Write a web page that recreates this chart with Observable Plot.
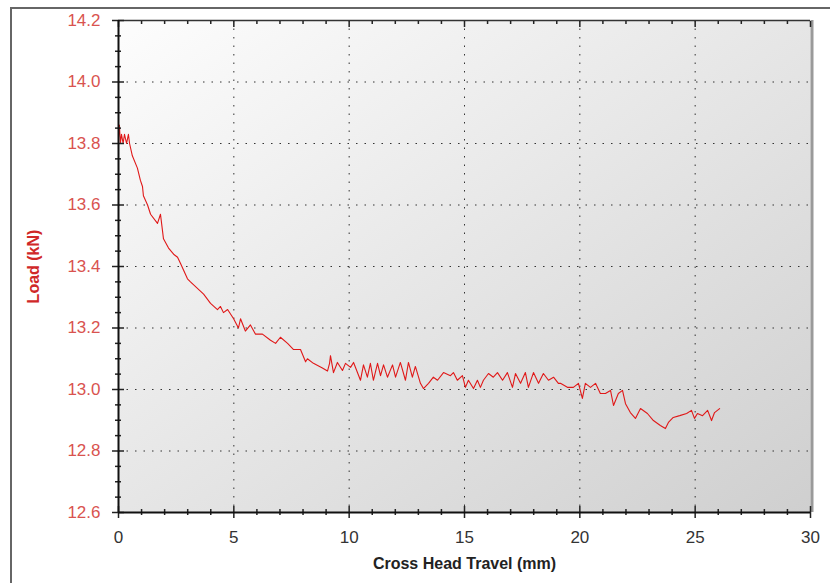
<!DOCTYPE html>
<html><head><meta charset="utf-8">
<script src="https://cdn.jsdelivr.net/npm/d3@7"></script>
<script src="https://cdn.jsdelivr.net/npm/@observablehq/plot@0.6"></script>
<style>
body{margin:0;background:#fff;}
#wrap{position:relative;width:830px;height:583px;overflow:hidden;}
#border{position:absolute;left:10px;top:7px;width:830px;height:590px;border-left:2px solid #666;border-top:2px solid #666;pointer-events:none;}
#wrap svg{position:absolute;left:0;top:0;}
</style></head><body><div id="wrap"><div id="border"></div></div>
<script>
const travel = [
  0, 0.04, 0.08, 0.13, 0.2, 0.26, 0.35, 0.43, 0.48, 0.6,
  0.82, 0.95, 1.04, 1.08, 1.26, 1.39, 1.69, 1.82, 1.95, 2.17,
  2.39, 2.56, 2.69, 2.99, 3.12, 3.55, 3.69, 3.99, 4.29, 4.42,
  4.55, 4.73, 4.99, 5.2, 5.29, 5.5, 5.72, 5.94, 6.24, 6.59,
  6.81, 7.02, 7.33, 7.59, 7.89, 8.11, 8.19, 8.45, 8.84, 9.06,
  9.15, 9.19, 9.32, 9.49, 9.71, 9.84, 10.06, 10.19, 10.49, 10.62,
  10.79, 10.92, 11.05, 11.23, 11.36, 11.49, 11.66, 11.88, 12.01, 12.22,
  12.44, 12.57, 12.74, 12.87, 13.09, 13.22, 13.44, 13.65, 13.83, 14.09,
  14.39, 14.52, 14.69, 14.91, 15.04, 15.17, 15.39, 15.56, 15.69, 15.82,
  16.04, 16.25, 16.43, 16.65, 16.86, 17.08, 17.21, 17.43, 17.64, 17.77,
  17.99, 18.21, 18.42, 18.64, 18.86, 19.07, 19.16, 19.46, 19.72, 19.94,
  20.11, 20.24, 20.46, 20.68, 20.89, 21.11, 21.33, 21.46, 21.67, 21.85,
  21.98, 22.19, 22.41, 22.63, 22.93, 23.19, 23.49, 23.71, 23.84, 24.05,
  24.33, 24.63, 24.84, 24.97, 25.10, 25.32, 25.54, 25.71, 25.84, 26.06
];
const load = [
  13.82, 13.86, 13.80, 13.83, 13.80, 13.83, 13.80, 13.83, 13.80, 13.76,
  13.72, 13.68, 13.66, 13.63, 13.60, 13.57, 13.54, 13.57, 13.49, 13.46,
  13.44, 13.43, 13.41, 13.36, 13.35, 13.32, 13.31, 13.28, 13.26, 13.27,
  13.25, 13.26, 13.23, 13.20, 13.23, 13.19, 13.21, 13.18, 13.18, 13.16,
  13.15, 13.17, 13.15, 13.13, 13.13, 13.09, 13.10, 13.085, 13.07, 13.06,
  13.085, 13.11, 13.055, 13.088, 13.062, 13.085, 13.072, 13.088, 13.03, 13.08,
  13.04, 13.085, 13.03, 13.085, 13.045, 13.08, 13.04, 13.08, 13.04, 13.088,
  13.03, 13.088, 13.04, 13.075, 13.02, 13.003, 13.02, 13.04, 13.03, 13.055,
  13.045, 13.055, 13.03, 13.045, 13.007, 13.03, 13.003, 13.03, 13.007, 13.03,
  13.052, 13.04, 13.055, 13.03, 13.055, 13.007, 13.052, 13.02, 13.055, 13.007,
  13.055, 13.02, 13.052, 13.03, 13.04, 13.02, 13.02, 13.007, 13.007, 13.02,
  12.971, 13.02, 13.007, 13.02, 12.987, 12.987, 12.997, 12.948, 12.987, 12.997,
  12.954, 12.925, 12.906, 12.938, 12.922, 12.899, 12.883, 12.873, 12.893, 12.909,
  12.915, 12.922, 12.932, 12.906, 12.922, 12.915, 12.932, 12.899, 12.925, 12.938
];
const xMajor = [0, 5, 10, 15, 20, 25, 30];
const xMinor = [1, 2, 3, 4, 6, 7, 8, 9, 11, 12, 13, 14, 16, 17, 18, 19, 21, 22, 23, 24, 26, 27, 28, 29];
const yMajor = [12.6, 12.8, 13.0, 13.2, 13.4, 13.6, 13.8, 14.0, 14.2];
const yMinor = [12.65, 12.7, 12.75, 12.85, 12.9, 12.95, 13.05, 13.1, 13.15, 13.25, 13.3, 13.35,
  13.45, 13.5, 13.55, 13.65, 13.7, 13.75, 13.85, 13.9, 13.95, 14.05, 14.1, 14.15];
const xLabel = "Cross Head Travel (mm)";
const yLabel = "Load (kN)";

const data = travel.map((t, i) => ({t, l: load[i]}));

const defsMark = () => {
  const defs = d3.create("svg:defs");
  const g = defs.append("linearGradient").attr("id", "plotBg")
    .attr("x1", 0).attr("y1", 0).attr("x2", 1).attr("y2", 1);
  g.append("stop").attr("offset", "0%").attr("stop-color", "#fdfdfd");
  g.append("stop").attr("offset", "100%").attr("stop-color", "#cfcfcf");
  return defs.node();
};

const tickCol = "#222";
const chart = Plot.plot({
  width: 830, height: 583,
  marginLeft: 118, marginRight: 20, marginTop: 20, marginBottom: 71,
  style: {background: "transparent", fontFamily: "'Liberation Sans', Arial, sans-serif"},
  x: {domain: [0, 30]},
  y: {domain: [12.6, 14.2]},
  marks: [
    defsMark,
    Plot.frame({fill: "url(#plotBg)", stroke: null}),
    Plot.ruleX(xMajor.slice(1, -1), {x: d => d, stroke: "#333", strokeDasharray: "1.5,7"}),
    Plot.ruleY(yMajor.slice(1, -1), {y: d => d, stroke: "#333", strokeDasharray: "1.5,7"}),
    Plot.ruleX([30], {x: d => d, stroke: "#9a9a9a", strokeWidth: 3, dx: 1.5}),
    Plot.ruleY([14.2], {y: d => d, stroke: "#333", strokeWidth: 1.5}),
    Plot.line(data, {x: "t", y: "l", stroke: "#e01818", strokeWidth: 1.1}),
    // bottom axis
    Plot.axisX({ticks: xMajor, anchor: "bottom", tickSize: 6, tickPadding: 12, fontSize: 17, fill: "#333", stroke: tickCol, strokeWidth: 1.5, label: null, tickFormat: d3.format("d")}),
    Plot.axisX({ticks: xMajor, anchor: "bottom", tickSize: 6, dy: -6, fill: "none", stroke: tickCol, strokeWidth: 1.5, label: null}),
    Plot.axisX({ticks: xMinor, anchor: "bottom", tickSize: 3, fill: "none", stroke: tickCol, strokeWidth: 1.5, label: null}),
    Plot.axisX({ticks: xMinor, anchor: "bottom", tickSize: 3, dy: -3, fill: "none", stroke: tickCol, strokeWidth: 1.5, label: null}),
    // top ticks
    Plot.axisX({ticks: xMajor, anchor: "top", tickSize: 6, dy: 6, fill: "none", stroke: tickCol, strokeWidth: 1.5, label: null}),
    Plot.axisX({ticks: xMinor, anchor: "top", tickSize: 3, dy: 3, fill: "none", stroke: tickCol, strokeWidth: 1.5, label: null}),
    // left axis
    Plot.axisY({ticks: yMajor, anchor: "left", tickSize: 6, tickPadding: 12, fontSize: 17, fill: "#d9534f", stroke: tickCol, strokeWidth: 1.5, label: null, tickFormat: d3.format(".1f")}),
    Plot.axisY({ticks: yMajor, anchor: "left", tickSize: 6, dx: 6, fill: "none", stroke: tickCol, strokeWidth: 1.5, label: null}),
    Plot.axisY({ticks: yMinor, anchor: "left", tickSize: 3, fill: "none", stroke: tickCol, strokeWidth: 1.5, label: null}),
    Plot.axisY({ticks: yMinor, anchor: "left", tickSize: 3, dx: 3, fill: "none", stroke: tickCol, strokeWidth: 1.5, label: null}),
    Plot.ruleX([0], {x: d => d, stroke: "#111", strokeWidth: 2}),
    Plot.ruleY([12.6], {y: d => d, stroke: "#111", strokeWidth: 2}),
    Plot.text([xLabel], {text: d => d, frameAnchor: "bottom", dy: 51, lineAnchor: "middle", fontSize: 16, fontWeight: "bold", fill: "#222"}),
    Plot.text([yLabel], {text: d => d, frameAnchor: "left", dx: -85, rotate: -90, textAnchor: "middle", lineAnchor: "middle", fontSize: 16, fontWeight: "bold", fill: "#d02828"})
  ]
});
document.getElementById("wrap").appendChild(chart);
</script>
</body></html>
